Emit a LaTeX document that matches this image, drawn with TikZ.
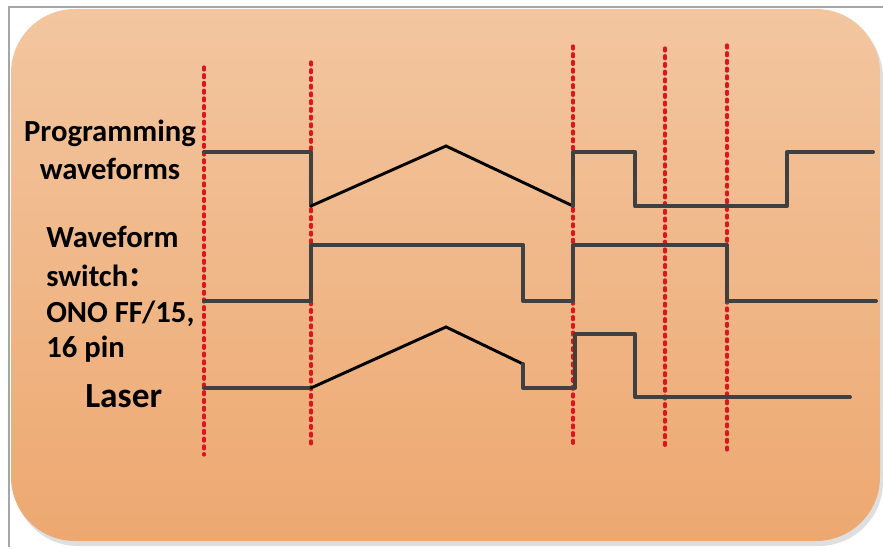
\documentclass[tikz,border=0pt]{standalone}
\usepackage{fontspec}
\setmainfont{Carlito}
\newfontfamily\cjk{Noto Sans CJK SC}
\definecolor{panelTop}{RGB}{243,198,160}
\definecolor{panelBot}{RGB}{237,168,112}
\definecolor{waveGray}{RGB}{64,64,64}
\definecolor{markRed}{RGB}{222,20,30}
\tikzset{
  wave/.style={waveGray, line width=3pt, line join=round, line cap=round},
  ramp/.style={black, line width=2.2pt, line cap=round},
  marker/.style={markRed, line width=2.4pt, line cap=round, dash pattern=on 2.2pt off 3.6pt},
  lbl/.style={font=\fontsize{23}{27}\selectfont\bfseries, inner sep=0pt}
}
\begin{document}
\begin{tikzpicture}[x=0.75pt, y=-0.75pt]
    \useasboundingbox (0,0) rectangle (883,549);
    % frame and panel
    \draw[gray!70, line width=1pt] (9,547) -- (9,7) -- (883,7);
    \fill[gray!25] (14,14) [rounded corners=48pt] rectangle (883,546);
    \shade[top color=panelTop, bottom color=panelBot, rounded corners=48pt]
        (11,9) rectangle (880,541);

    % time markers
    \foreach \x/\ya/\yb in {204/67/455, 311/62/448, 573/46/445, 665/48/450, 727/45/450} {
        \coordinate (top\x) at (\x,\ya);
        \coordinate (bot\x) at (\x,\yb);
        \draw[marker] (top\x) -- (bot\x);
    }

    % programming waveforms
    \draw[wave] (204,152) -- (311,152) -- (311,206);
    \draw[ramp] (311,206) -- (446,146) -- (573,206);
    \draw[wave] (573,206) -- (573,152) -- (635,152) -- (635,206)
        -- (787,206) -- (787,152) -- (873,152);

    % waveform switch
    \draw[wave] (204,301) -- (311,301) -- (311,245) -- (523,245) -- (523,301)
        -- (573,301) -- (573,245) -- (727,245) -- (727,301) -- (876,301);

    % laser
    \draw[wave] (204,388) -- (311,388);
    \draw[ramp] (311,388) -- (446,327) -- (523,364);
    \draw[wave] (523,364) -- (523,388) -- (575,388) -- (575,334) -- (635,334)
        -- (635,397) -- (850,397);

    % labels
    \node[lbl, anchor=base] (prog1) at (110,142) {Programming};
    \node[lbl, anchor=base] (prog2) at (110,180) {waveforms};
    \node[lbl, anchor=base west] (sw1) at (46,248) {Waveform};
    \node[lbl, anchor=base west] (sw2) at (46,287) {switch{\cjk\fontsize{20}{24}\selectfont ：}};
    \node[lbl, anchor=base west] (sw3) at (46,323) {ONO FF/15,};
    \node[lbl, anchor=base west] (sw4) at (46,358) {16 pin};
    \node[lbl, font=\fontsize{26.5}{30}\selectfont\bfseries, anchor=base west] (laser) at (85,407) {Laser};
\end{tikzpicture}
\end{document}
